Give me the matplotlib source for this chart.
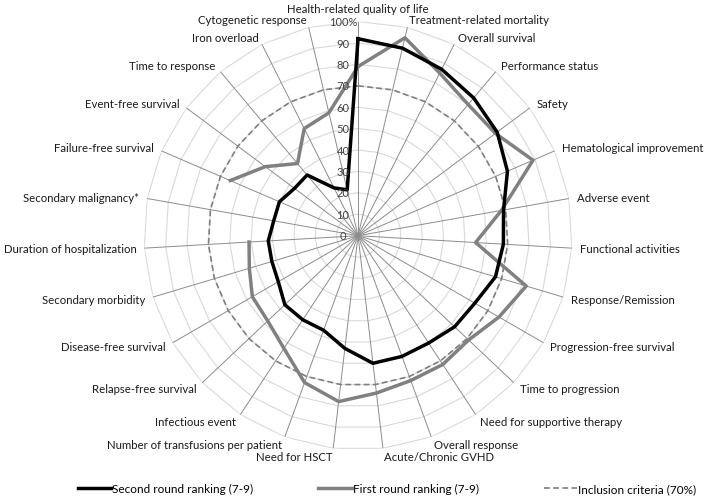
import numpy as np
import matplotlib.pyplot as plt
from matplotlib.lines import Line2D

plt.rcParams['font.family'] = ['Lato', 'DejaVu Sans']

# outcomes, clockwise from the top
categories = [
    'Health-related quality of life', 'Treatment-related mortality', 'Overall survival',
    'Performance status', 'Safety', 'Hematological improvement', 'Adverse event',
    'Functional activities', 'Response/Remission', 'Progression-free survival',
    'Time to progression', 'Need for supportive therapy', 'Overall response',
    'Acute/Chronic GVHD', 'Need for HSCT', 'Number of transfusions per patient',
    'Infectious event', 'Relapse-free survival', 'Disease-free survival',
    'Secondary morbidity', 'Duration of hospitalization', 'Secondary malignancy*',
    'Failure-free survival', 'Event-free survival', 'Time to response',
    'Iron overload', 'Cytogenetic response',
]

# % of panel ranking 7-9
second_round = [92, 90, 87, 84, 81, 76, 69, 68, 67, 63, 62, 60, 60, 60, 53,
                47, 47, 47, 43, 42, 42, 40, 40, 37, 37, 25, 22]
first_round = [79, 95, 85, 80, 80, 89, 68, 55, 82, 76, 71, 72, 72, 74, 78,
               73, 63, 58, 57, 53, 51, np.nan, 65, 54, 44, 56, 59]
inclusion = [70] * len(categories)

r_ticks = [0, 10, 20, 30, 40, 50, 60, 70, 80, 90, 100]
r_tick_labels = ['0', '10', '20', '30', '40', '50', '60', '70', '80', '90', '100%']

n = len(categories)
theta = np.linspace(0, 2 * np.pi, n, endpoint=False)
theta_closed = np.append(theta, theta[0])


def closed(vals):
    return np.append(vals, vals[0])


fig = plt.figure(figsize=(7.09, 5.02), dpi=100)
ax = fig.add_axes([0.203, 0.102, 0.604, 0.853], projection='polar')
ax.set_theta_zero_location('N')
ax.set_theta_direction(-1)
ax.set_ylim(0, 100)
ax.grid(False)
ax.spines['polar'].set_visible(False)
ax.set_xticks([])
ax.set_yticks([])

# polygon gridlines like a spreadsheet radar chart
for r in r_ticks[1:]:
    ax.plot(theta_closed, [r] * (n + 1), color='#d9d9d9', lw=0.8, zorder=1)
for t in theta:
    ax.plot([t, t], [0, 100], color='#8c8c8c', lw=0.7, zorder=1)

ax.plot(theta_closed, closed(inclusion), color='#7f7f7f', lw=1.2,
        ls=(0, (3.5, 2)), zorder=3)
ax.plot(theta_closed, closed(first_round), color='#808080', lw=2.5, zorder=4)
ax.plot(theta_closed, closed(second_round), color='black', lw=2.5, zorder=5)

# radial value labels along the top spoke
for r, lab in zip(r_ticks, r_tick_labels):
    ax.annotate(lab, xy=(0, r), xytext=(-15, 0), textcoords='offset pixels',
                ha='center', va='center', fontsize=8, color='#404040', zorder=6)

# category labels outside the outer ring
for t, lab in zip(theta, categories):
    s, c = np.sin(t), np.cos(t)
    if s > 0.01:
        ha = 'left'
    elif s < -0.01:
        ha = 'right'
    else:
        ha = 'center'
    va = 'bottom' if c > 0.99 else 'center'
    ax.annotate(lab, xy=(t, 100), xytext=(8 * s, 8 * c), textcoords='offset pixels',
                ha=ha, va=va, fontsize=8.2, color='#1a1a1a', annotation_clip=False)

handles = [
    Line2D([], [], color='black', lw=2.5),
    Line2D([], [], color='#808080', lw=2.5),
    Line2D([], [], color='#7f7f7f', lw=1.2, ls=(0, (3.5, 2))),
]
labels = ['Second round ranking (7-9)', 'First round ranking (7-9)', 'Inclusion criteria (70%)']
fig.legend(handles, labels, loc='center', bbox_to_anchor=(0.546, 0.024), ncol=3,
           frameon=False, fontsize=8.5, handlelength=2.8, handletextpad=0.1,
           columnspacing=5.5)

fig.savefig('out.png', dpi=100)
